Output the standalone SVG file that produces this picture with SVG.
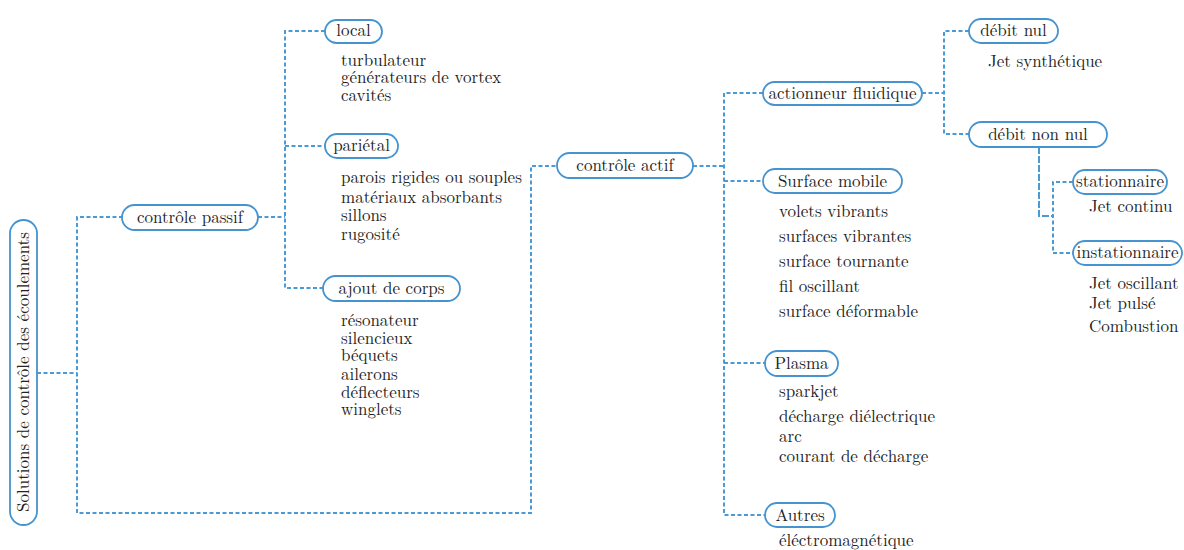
<svg xmlns="http://www.w3.org/2000/svg" width="1184" height="550" viewBox="0 0 1184 550">
<style>
text{font-size:17px;fill:#222}
.n rect{fill:#fff;stroke:#4593cf;stroke-width:1.8}
.n text{text-anchor:middle}
.c path{fill:none;stroke:#4a9ad6;stroke-width:2;stroke-dasharray:4 2.5}
.c path.s{stroke-dasharray:7 2}
</style>
<rect width="1184" height="550" fill="#fff"/>
<g class="c" id="connectors">
<path d="M37,373 H77"/>
<path d="M123,217 H77 V513 H531 V166 H557"/>
<path d="M258,217 H285"/>
<path d="M325,31 H285 V288 H323"/>
<path d="M285,146 H325"/>
<path d="M693,166 H724"/>
<path d="M763,93 H724 V515 H765"/>
<path d="M724,181 H763"/>
<path d="M724,363 H765"/>
<path d="M922,93 H944"/>
<path d="M969,31 H944 V134 H969"/>
<path class="s" d="M1039,147 V216 H1053"/>
<path d="M1073,182 H1053 V253 H1073"/>
</g>
<g font-family="'Latin Modern Roman', 'Liberation Serif', serif" font-size="17">
<g class="n" id="root">
<rect x="10" y="220" width="27" height="305" rx="13.5"/>
<text transform="translate(29,372) rotate(-90)">Solutions de contrôle des écoulements</text>
</g>
<g class="n" id="passif">
<rect x="122" y="205" width="136" height="25" rx="12.5"/>
<text x="190" y="222.5">contrôle passif</text>
</g>
<g class="n" id="local">
<rect x="325" y="20" width="57" height="23" rx="11.5"/>
<text x="353.5" y="36">local</text>
</g>
<g id="local-list">
<text x="341" y="65.5">turbulateur</text>
<text x="341" y="82.5">générateurs de vortex</text>
<text x="341" y="100.5">cavités</text>
</g>
<g class="n" id="parietal">
<rect x="325" y="134" width="73" height="24" rx="12"/>
<text x="361.5" y="151">pariétal</text>
</g>
<g id="parietal-list">
<text x="341" y="183">parois rigides ou souples</text>
<text x="341" y="203">matériaux absorbants</text>
<text x="341" y="221">sillons</text>
<text x="341" y="240">rugosité</text>
</g>
<g class="n" id="ajout">
<rect x="323" y="276" width="137" height="25" rx="12.5"/>
<text x="391.5" y="293.5">ajout de corps</text>
</g>
<g id="ajout-list">
<text x="341" y="326">résonateur</text>
<text x="341" y="344">silencieux</text>
<text x="341" y="361">béquets</text>
<text x="341" y="380">ailerons</text>
<text x="341" y="398">déflecteurs</text>
<text x="341" y="415">winglets</text>
</g>
<g class="n" id="actif">
<rect x="557" y="153" width="136" height="25" rx="12.5"/>
<text x="625" y="170.5">contrôle actif</text>
</g>
<g class="n" id="fluidique">
<rect x="763" y="82" width="159" height="23" rx="11.5"/>
<text x="842.5" y="98.5">actionneur fluidique</text>
</g>
<g class="n" id="surface">
<rect x="763" y="169" width="139" height="24" rx="12"/>
<text x="832.5" y="186.5">Surface mobile</text>
</g>
<g id="surface-list">
<text x="779" y="217">volets vibrants</text>
<text x="779" y="242">surfaces vibrantes</text>
<text x="779" y="267">surface tournante</text>
<text x="779" y="292">fil oscillant</text>
<text x="779" y="317">surface déformable</text>
</g>
<g class="n" id="plasma">
<rect x="765" y="351" width="73" height="25" rx="12.5"/>
<text x="801.5" y="368.5">Plasma</text>
</g>
<g id="plasma-list">
<text x="779" y="397">sparkjet</text>
<text x="779" y="422">décharge diélectrique</text>
<text x="779" y="442">arc</text>
<text x="779" y="462">courant de décharge</text>
</g>
<g class="n" id="autres">
<rect x="765" y="503" width="70" height="24" rx="12"/>
<text x="800" y="520.5">Autres</text>
</g>
<g id="autres-list">
<text x="779" y="546">éléctromagnétique</text>
</g>
<g class="n" id="debit-nul">
<rect x="969" y="19" width="89" height="24" rx="12"/>
<text x="1013.5" y="36">débit nul</text>
</g>
<g id="debit-nul-list">
<text x="988" y="67">Jet synthétique</text>
</g>
<g class="n" id="debit-non-nul">
<rect x="969" y="122" width="138" height="25" rx="12.5"/>
<text x="1038" y="139.5">débit non nul</text>
</g>
<g class="n" id="stationnaire">
<rect x="1073" y="170" width="94" height="24" rx="12"/>
<text x="1120" y="187">stationnaire</text>
</g>
<g id="stationnaire-list">
<text x="1089" y="212">Jet continu</text>
</g>
<g class="n" id="instationnaire">
<rect x="1073" y="241" width="109" height="24" rx="12"/>
<text x="1127.5" y="258">instationnaire</text>
</g>
<g id="instationnaire-list">
<text x="1089" y="289">Jet oscillant</text>
<text x="1089" y="309">Jet pulsé</text>
<text x="1089" y="332">Combustion</text>
</g>
</g>
</svg>
